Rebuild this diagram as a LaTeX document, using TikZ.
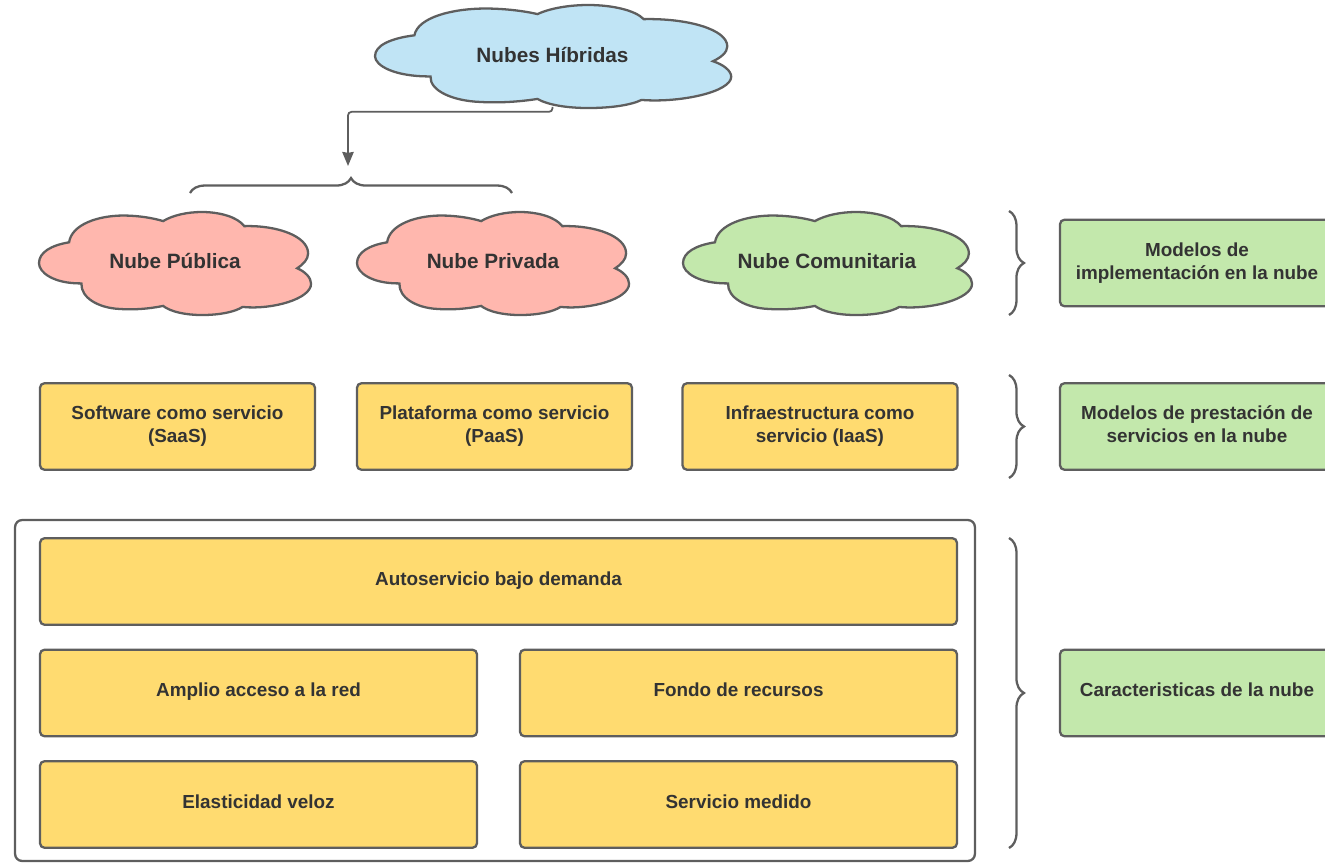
\documentclass[tikz,border=0pt]{standalone}
\usepackage{fontspec}
\setmainfont{Liberation Sans}
\usetikzlibrary{decorations.pathreplacing}
\usetikzlibrary{shapes,positioning}
\usetikzlibrary{arrows.meta}
\tikzset{>={Stealth[length=8pt,width=6.5pt,inset=0.5pt]}}
\definecolor{lineColor}{HTML}{5E5E5E}
\definecolor{textColor}{HTML}{333333}
\definecolor{yellowFill}{HTML}{FFDB70}
\definecolor{greenFill}{HTML}{C3E8AC}
\definecolor{redFill}{HTML}{FFB7AE}
\definecolor{blueFill}{HTML}{C0E4F5}
\tikzset{
  boxBase/.style={draw=lineColor,line width=1.3pt,rounded corners=2.5pt,inner sep=0pt,align=center,text=textColor,text height=6pt,text depth=2pt,font=\bfseries\fontsize{10.75}{13.2}\selectfont},
  twoLines/.style={text height=20.6pt},
  yellowBox/.style={boxBase,fill=yellowFill,minimum height=1.73cm},
  greenBox/.style={boxBase,fill=greenFill,minimum height=1.73cm,minimum width=5.48cm},
  cloudText/.style={inner sep=0pt,minimum height=2.06cm,text=textColor,font=\bfseries\fontsize{11.8}{14}\selectfont},
  bigBrace/.style={draw=lineColor,line width=1.3pt,decorate,decoration={brace,amplitude=8.5pt,aspect=0.5}},
  cloudShape/.pic={
    \path[draw=lineColor,line width=1.3pt,pic actions] (42.7,70.7)
      .. controls (15,71) and (0,60) .. (0,50.7)
      .. controls (0,40) and (12,33) .. (30.3,30)
      .. controls (33,12) and (60,3.5) .. (85,3.5)
      .. controls (100,3.5) and (115,6) .. (125,9)
      .. controls (135,3) and (150,0) .. (164,0)
      .. controls (182,0) and (200,5) .. (206.7,14)
      .. controls (240,13) and (271,24) .. (271,41)
      .. controls (271,47) and (266,52) .. (260,55.7)
      .. controls (268,59) and (274,65) .. (274,71)
      .. controls (274,86) and (235,97) .. (205,94)
      .. controls (197,99) and (182,102) .. (164,102)
      .. controls (148,102) and (133,99) .. (125,93)
      .. controls (110,96) and (95,97) .. (81,96)
      .. controls (60,95) and (42,85) .. (42.7,70.7) -- cycle;
  }
}

\begin{document}
\begin{tikzpicture}[x=0.02cm,y=-0.02cm]
    \useasboundingbox (0,0) rectangle (1325,862);

    \pic[fill=blueFill,xscale=1.3,yscale=1.01] at (375,5) {cloudShape};
    \pic[fill=redFill,xscale=0.993,yscale=1.01] at (39,212) {cloudShape};
    \pic[fill=redFill,xscale=0.993,yscale=1.01] at (357,212) {cloudShape};
    \pic[fill=greenFill,xscale=1.055,yscale=1.01] at (683,212) {cloudShape};

    \node[cloudText,minimum width=7.12cm] (hybridCloud) at (552.5,55) {Nubes Híbridas};
    \node[cloudText,minimum width=5.44cm] (publicCloud) at (175,261) {Nube Pública};
    \node[cloudText,minimum width=5.44cm] (privateCloud) at (493,261) {Nube Privada};
    \node[cloudText,minimum width=5.78cm] (communityCloud) at (827,261) {Nube Comunitaria};

    \coordinate (topBraceLeft) at (190,193);
    \coordinate (topBraceRight) at (512,193);
    \coordinate (topBraceTip) at (348,166);
    \draw[bigBrace] (topBraceLeft) -- (topBraceRight);
    \draw[->,draw=lineColor,line width=1pt,rounded corners=2pt] (hybridCloud.south) -- ++(0,5) -| (topBraceTip);

    \node[yellowBox,twoLines,minimum width=5.5cm] (saasBox) at (177.5,426.5) {Software como servicio\\(SaaS)};
    \node[yellowBox,twoLines,minimum width=5.5cm] (paasBox) at (494.5,426.5) {Plataforma como servicio\\(PaaS)};
    \node[yellowBox,twoLines,minimum width=5.5cm] (iaasBox) at (820,426.5) {Infraestructura como\\servicio (IaaS)};

    \node[draw=lineColor,line width=1.3pt,rounded corners=4pt,minimum width=19.2cm,minimum height=6.82cm] (traitsFrame) at (495,690.5) {};
    \node[yellowBox,minimum width=18.34cm] (selfBox) at (498.5,581.5) {Autoservicio bajo demanda};
    \node[yellowBox,minimum width=8.74cm] (accessBox) at (258.5,693) {Amplio acceso a la red};
    \node[yellowBox,minimum width=8.74cm] (poolBox) at (738.5,693) {Fondo de recursos};
    \node[yellowBox,minimum width=8.74cm] (elasticBox) at (258.5,804.5) {Elasticidad veloz};
    \node[yellowBox,minimum width=8.74cm] (meteredBox) at (738.5,804.5) {Servicio medido};

    \coordinate (braceOneTop) at (1009,211);
    \coordinate (braceOneBottom) at (1009,315);
    \coordinate (braceTwoTop) at (1009,375);
    \coordinate (braceTwoBottom) at (1009,478);
    \coordinate (braceThreeTop) at (1009,538);
    \coordinate (braceThreeBottom) at (1009,848);
    \draw[bigBrace] (braceOneTop) -- (braceOneBottom);
    \draw[bigBrace] (braceTwoTop) -- (braceTwoBottom);
    \draw[bigBrace] (braceThreeTop) -- (braceThreeBottom);

    \node[greenBox,twoLines] (deployBox) at (1197,263) {Modelos de\\implementación en la nube};
    \node[greenBox,twoLines] (serviceBox) at (1197,426.5) {Modelos de prestación de\\servicios en la nube};
    \node[greenBox] (traitsBox) at (1197,693) {Caracteristicas de la nube};
\end{tikzpicture}
\end{document}
